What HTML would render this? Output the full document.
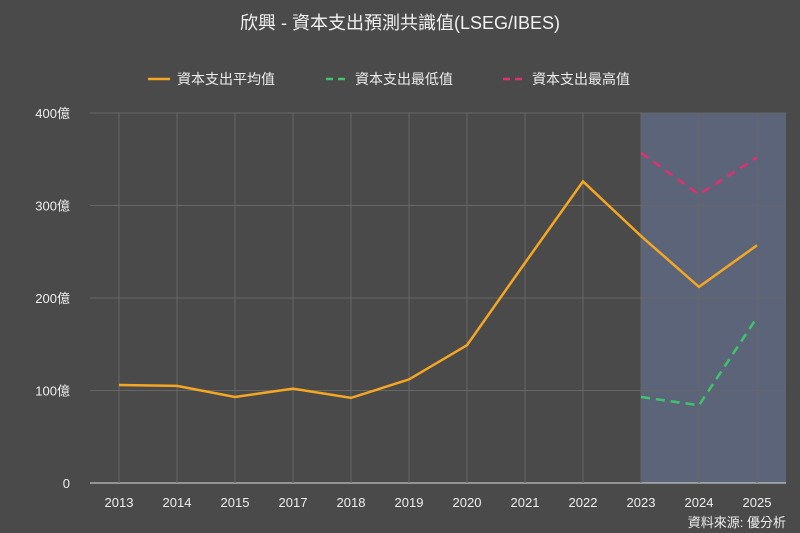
<!DOCTYPE html>
<html><head><meta charset="utf-8"><style>
body{margin:0;background:#4a4a4a;}
svg{display:block;font-family:"Liberation Sans","Noto Sans CJK TC",sans-serif;}
</style></head><body>
<svg id="c" width="800" height="533">
<rect width="800" height="533" fill="#4a4a4a"/>
<text x="400" y="29" text-anchor="middle" fill="#f2f2f2" font-size="18">欣興 - 資本支出預測共識值(LSEG/IBES)</text>
<g>
<g><line x1="148" y1="79" x2="170" y2="79" stroke="#f5a623" stroke-width="2.5"/><text x="177" y="84" fill="#eee" font-size="14">資本支出平均值</text></g>
<g><line x1="326" y1="79" x2="348" y2="79" stroke="#3ec46d" stroke-width="2.5" stroke-dasharray="7,5"/><text x="355" y="84" fill="#eee" font-size="14">資本支出最低值</text></g>
<g><line x1="503" y1="79" x2="525" y2="79" stroke="#e0306f" stroke-width="2.5" stroke-dasharray="7,5"/><text x="532" y="84" fill="#eee" font-size="14">資本支出最高值</text></g>
</g>
<g id="plot"></g>
<text x="786" y="527" text-anchor="end" fill="#eee" font-size="13">資料來源: 優分析</text>
</svg>
<script>
const categories=["2013","2014","2015","2017","2018","2019","2020","2021","2022","2023","2024","2025"];
const avgValues=[106,105,93,102,92,112,149,238,326,267,212,257];
const minValues=[null,null,null,null,null,null,null,null,null,93,84,179];
const maxValues=[null,null,null,null,null,null,null,null,null,357,312,352];
const yTicks=[0,100,200,300,400];
const yTickLabels=["0","100億","200億","300億","400億"];
const shadeStart="2023";
const NS="http://www.w3.org/2000/svg";
const L=90,R=786,T=113,B=483,yMax=400;
const bw=(R-L)/categories.length;
const x=i=>L+bw*(i+0.5);
const y=v=>B-(v/yMax)*(B-T);
const g=document.getElementById('plot');
function mk(t,a){const e=document.createElementNS(NS,t);for(const k in a)e.setAttribute(k,a[k]);g.appendChild(e);return e;}
const si=categories.indexOf(shadeStart);
let sh=mk('rect',{x:x(si),y:T,width:R-x(si),height:B-T,fill:"#5b6478"});


yTicks.forEach((t,i)=>{
 let l=mk('line',{x1:L,x2:R,y1:y(t),y2:y(t),stroke:i==0?"#ddd":"#666","stroke-width":1});
 
 
 let tx=mk('text',{x:70,y:y(t)+5,"text-anchor":"end",fill:"#eee","font-size":13});
 tx.textContent=yTickLabels[i];
 
 
});
categories.forEach((c,i)=>{
 let l=mk('line',{x1:x(i),x2:x(i),y1:T,y2:B,stroke:"#666","stroke-width":1});
 
 
 let tx=mk('text',{x:x(i),y:507,"text-anchor":"middle",fill:"#eee","font-size":13});
 tx.textContent=c;
 
 
});
function line(vals,color,dash,name){
 const pts=[];vals.forEach((v,i)=>{if(v!=null)pts.push(x(i)+","+y(v));});
 let p=mk('polyline',{points:pts.join(" "),fill:"none",stroke:color,"stroke-width":2.5,"stroke-dasharray":dash});
 
 
}
line(avgValues,"#f5a623","none","avg-line");
line(minValues,"#3ec46d","9,6","min-line");
line(maxValues,"#e0306f","9,6","max-line");
</script>
</body></html>
